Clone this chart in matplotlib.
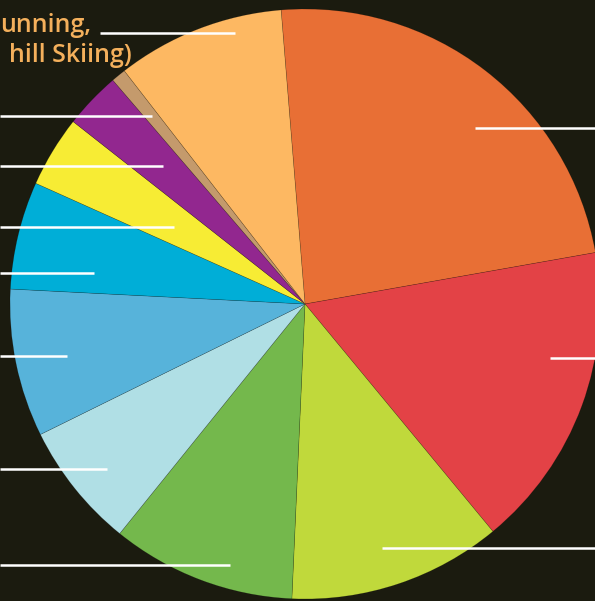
import matplotlib.pyplot as plt

# ---------------- data ----------------
# slices in clockwise order, starting at the top (orange)
slice_names = ["orange", "red", "yellowgreen", "green", "paleblue",
               "midblue", "cyan", "yellow", "purple", "tan", "lightorange"]
slice_pct = [23.5, 16.8, 11.7, 10.1, 6.9, 8.1, 5.9, 3.9, 3.1, 0.8, 9.2]
slice_colors = ["#E86F35", "#E34246", "#C0D93B", "#74B84C", "#B0DFE5",
                "#57B3DA", "#00AED7", "#F7EC34", "#92278F", "#C49A6C",
                "#FDB862"]

# the visible part of the label (the crop cuts it at the left edge)
label_lines = ["unning,", "hill Skiing)"]

# ---------------- layout (pixel units, y measured from top) ----------------
W, H = 595, 601
CX, CY, R = 305, 304, 295
START = 94.65
BG = "#1b1b0f"
TXT = "#F4B05C"

# leader lines: (y, x0, x1)
leaders = [
    (33, 100, 235), (115.5, 0, 152), (166, 0, 163), (227.3, 0, 174),
    (272.7, 0, 94), (356, 0, 67), (468.7, 0, 107), (565, 0, 230),
    (127.7, 475, 595), (358, 550, 595), (547.5, 382, 595),
]

fig = plt.figure(figsize=(W / 100, H / 100), dpi=100)
fig.patch.set_facecolor(BG)
ax = fig.add_axes([0, 0, 1, 1])
ax.set_facecolor(BG)

ax.pie(slice_pct, colors=slice_colors, startangle=START, counterclock=False,
       center=(CX, H - CY), radius=R,
       wedgeprops=dict(edgecolor=(0, 0, 0, 0.25), linewidth=0.4))

for y, x0, x1 in leaders:
    ax.plot([x0, x1], [H - y, H - y], color="white", lw=1.8,
            solid_capstyle="butt")

ax.text(0, H - 32, label_lines[0], color=TXT, fontsize=18,
        family="Open Sans", weight="semibold", ha="left", va="baseline")
ax.text(132, H - 62, label_lines[1], color=TXT, fontsize=18,
        family="Open Sans", weight="semibold", ha="right", va="baseline")

ax.set_xlim(0, W)
ax.set_ylim(0, H)
ax.set_aspect("auto")
ax.axis("off")

fig.savefig("out.png", dpi=100, facecolor=BG)
